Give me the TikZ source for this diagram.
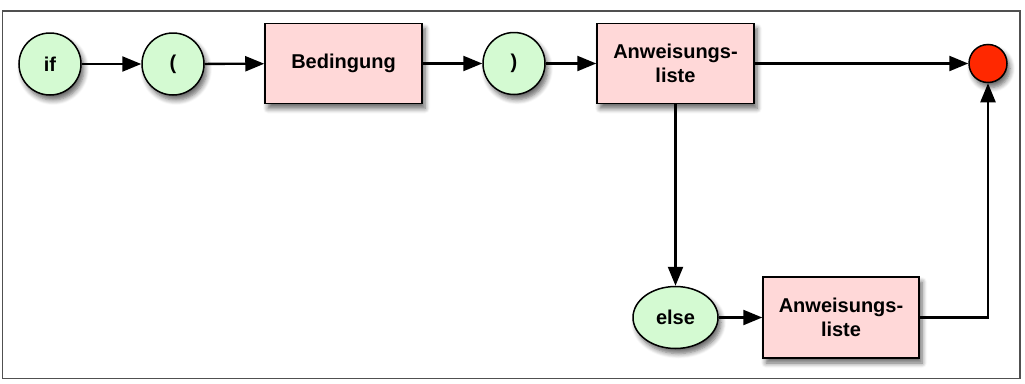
\documentclass[tikz,border=0pt]{standalone}
\usepackage{fontspec}
\setmainfont{Liberation Sans}
\usetikzlibrary{arrows.meta,shapes.geometric,shadows.blur}
\definecolor{termgreen}{RGB}{212,250,210}
\definecolor{ntpink}{RGB}{255,216,216}
\definecolor{endred}{RGB}{255,40,0}
\definecolor{framegray}{RGB}{80,80,80}
\begin{document}
\begin{tikzpicture}[x=1pt,y=-1pt,
  lbl/.style={font=\bfseries\fontsize{20}{24}\selectfont, text=black},
  shad/.style={blur shadow={shadow xshift=3pt,shadow yshift=-5pt,shadow blur steps=6,shadow opacity=60,shadow blur radius=5pt}},
  term/.style={lbl, circle, draw=black, line width=1.5pt, fill=termgreen, minimum size=62pt, inner sep=0pt, shad},
  termoval/.style={lbl, ellipse, draw=black, line width=1.5pt, fill=termgreen, minimum width=85pt, minimum height=62pt, inner sep=0pt, shad},
  nonterm/.style={lbl, rectangle, draw=black, line width=1.5pt, fill=ntpink, minimum width=157pt, minimum height=80pt, align=center, inner sep=0pt, shad},
  endnode/.style={circle, draw=black, line width=1.5pt, fill=endred, minimum size=38pt, inner sep=0pt, shad},
  conn/.style={line width=2.3pt, -{Triangle[length=19pt,width=15pt]}}
]
\useasboundingbox (0,0) rectangle (1025,383);
\draw[framegray, line width=1.3pt] (2.5,11) rectangle (1020,378.5);

\node[term] (if) at (50,64) {if};
\node[term] (lp) at (173,64) {(};
\node[nonterm] (bed) at (343.5,63.5) {Bedingung};
\node[term] (rp) at (514,63.5) {)};
\node[nonterm] (al1) at (675.5,63.5) {Anweisungs-\\liste};
\node[endnode] (end) at (988,63.5) {};
\node[termoval] (else) at (675.5,317.5) {else};
\node[nonterm, minimum width=156pt, minimum height=81pt] (al2) at (841,317.5) {Anweisungs-\\liste};

\coordinate (corner) at (end |- al2.east);

\draw[conn] (if) -- (lp);
\draw[conn] (lp) -- (bed);
\draw[conn] (bed) -- (rp);
\draw[conn] (rp) -- (al1);
\draw[conn] (al1) -- (end);
\draw[conn] (al1) -- (else);
\draw[conn] (else) -- (al2);
\draw[conn] (al2.east) -- (corner) -- (end.south);
\end{tikzpicture}
\end{document}
